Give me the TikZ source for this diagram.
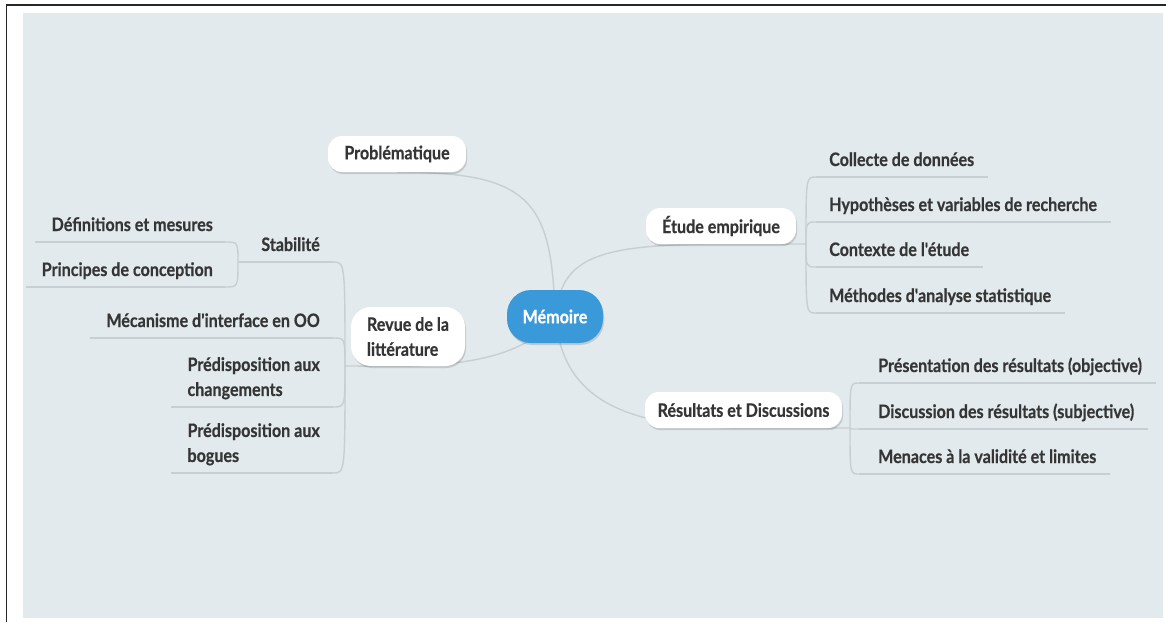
\documentclass[tikz,border=0pt]{standalone}
\usepackage{fontspec}
\newfontfamily\mapfont{Lato}[FakeStretch=0.87, BoldFeatures={FakeBold=0.5}]
\usetikzlibrary{calc,shadows}
\definecolor{canvas}{HTML}{E3EAEE}
\definecolor{branch}{HTML}{C7CFD3}
\definecolor{ink}{HTML}{353535}
\definecolor{central}{HTML}{3A9AD9}
\pgfdeclarelayer{links}
\pgfsetlayers{links,main}
\begin{document}
\begin{tikzpicture}[x=1pt,y=-1pt,
  font=\mapfont\bfseries\fontsize{18.5}{25}\selectfont,
  softshadow/.style={drop shadow={shadow xshift=1pt, shadow yshift=-2pt, opacity=0.14, fill=black}},
  topic/.style={fill=white, rounded corners=14pt, text=ink, inner sep=0pt, align=center, softshadow},
  root/.style={fill=central, rounded corners=24pt, text=white, inner sep=0pt, softshadow},
  leaf/.style={inner sep=0pt, text=ink},
  link/.style={draw=branch, line width=1.4pt}]
\useasboundingbox (0,0) rectangle (1166,622);

% main topics
\node[root, minimum width=96pt, minimum height=53pt] (mem) at (555,316.5) {Mémoire};
\node[topic, minimum width=138pt, minimum height=36pt] (prob) at (397,154) {Problématique};
\node[topic, minimum width=150pt, minimum height=36pt] (etude) at (721,226) {Étude empirique};
\node[topic, minimum width=197pt, minimum height=36pt] (res) at (743.5,410) {Résultats et Discussions};
\node[topic, minimum width=114pt, minimum height=59pt, rounded corners=20pt, align=left] (rev) at (408,336.5) {Revue de la\\littérature};

% sub-topics, left side
\node[leaf, anchor=base east] (stab) at (320,251) {Stabilité};
\node[leaf, anchor=base east] (defi) at (213,231) {Définitions et mesures};
\node[leaf, anchor=base east] (princ) at (213,276) {Principes de conception};
\node[leaf, anchor=base east] (meca) at (320,327) {Mécanisme d'interface en OO};
\node[leaf, anchor=south east, align=left] (chg) at (320,399.5) {Prédisposition aux\\changements};
\node[leaf, anchor=south east, align=left] (bog) at (320,465.5) {Prédisposition aux\\bogues};

% sub-topics, right side
\node[leaf, anchor=base west] (coll) at (829,166) {Collecte de données};
\node[leaf, anchor=base west] (hyp) at (829,211) {Hypothèses et variables de recherche};
\node[leaf, anchor=base west] (ctx) at (829,256) {Contexte de l'étude};
\node[leaf, anchor=base west] (meth) at (829,302) {Méthodes d'analyse statistique};
\node[leaf, anchor=base west] (pres) at (878,372) {Présentation des résultats (objective)};
\node[leaf, anchor=base west] (disc) at (878,418) {Discussion des résultats (subjective)};
\node[leaf, anchor=base west] (men) at (878,463) {Menaces à la validité et limites};

% branch points
\coordinate (J1) at (238,262);
\coordinate (J2) at (345,366);
\coordinate (J3) at (806,244);
\coordinate (J4) at (850,428);
% inner ends of the underlines
\coordinate (defi-u) at (225,242);
\coordinate (princ-u) at (225,287);
\coordinate (stab-u) at (333,262);
\coordinate (meca-u) at (333,338);
\coordinate (chg-u) at (333,407);
\coordinate (bog-u) at (333,473);
\coordinate (coll-u) at (816,177);
\coordinate (hyp-u) at (816,222);
\coordinate (ctx-u) at (816,267);
\coordinate (meth-u) at (816,313);
\coordinate (pres-u) at (859,383);
\coordinate (disc-u) at (859,429);
\coordinate (men-u) at (859,474);

\begin{pgfonlayer}{links}
  \fill[canvas] (23,13) rectangle (1163,618);
  \draw[black!85, line width=1.5pt] (6.5,622) -- (6.5,5) -- (1166,5);

  % central topic to main topics
  \draw[link] (mem.center) .. controls (552,200) and (530,172) .. (prob.south);
  \draw[link] (mem.center) .. controls (562,260) and (590,244) .. (etude.south);
  \draw[link] (mem.center) .. controls (562,380) and (595,428) .. (res.south);
  \draw[link] (mem.center) .. controls (530,352) and (480,364) .. (rev.south);

  % Revue de la littérature
  \draw[link] (rev.south) -- (J2);
  \foreach \c in {stab-u,meca-u,chg-u,bog-u}
    \draw[link] (J2) .. controls (J2 |- \c) .. (\c);
  \draw[link] (stab-u) -- (J1);
  \foreach \c in {defi-u,princ-u}
    \draw[link] (J1) .. controls (J1 |- \c) .. (\c);
  \foreach \n in {defi,princ,meca,chg,bog}
    \draw[link] (\n-u) -- ($(\n-u -| \n.west)+(-16,0)$);

  % Étude empirique
  \draw[link] (etude.south) -- (J3);
  \foreach \n in {coll,hyp,ctx,meth}{
    \draw[link] (J3) .. controls (J3 |- \n-u) .. (\n-u);
    \draw[link] (\n-u) -- ($(\n-u -| \n.east)+(14,0)$);
  }

  % Résultats et Discussions
  \draw[link] (res.south) -- (J4);
  \foreach \n in {pres,disc,men}{
    \draw[link] (J4) .. controls (J4 |- \n-u) .. (\n-u);
    \draw[link] (\n-u) -- ($(\n-u -| \n.east)+(14,0)$);
  }
\end{pgfonlayer}
\end{tikzpicture}
\end{document}
